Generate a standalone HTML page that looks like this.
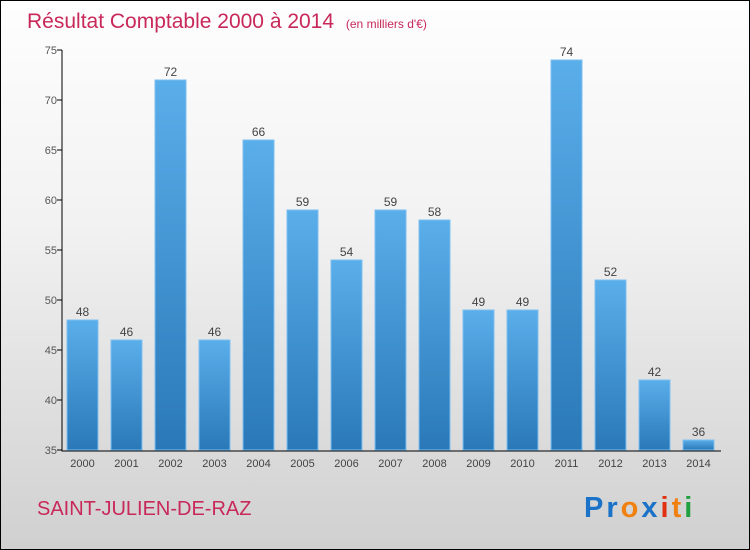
<!DOCTYPE html>
<html><head><meta charset="utf-8"><style>
body{margin:0}
#c{width:748px;height:548px;border:1px solid #000;position:relative;overflow:hidden;background:linear-gradient(#fefefe 0%,#f2f2f2 40%,#d0d0d0 100%);font-family:"Liberation Sans",sans-serif}
</style></head><body>
<div id="c">
<svg id="s" width="748" height="548">
<defs><linearGradient id="g" x1="0" y1="0" x2="0" y2="1"><stop offset="0" stop-color="#5aaeea"/><stop offset="1" stop-color="#2a78b8"/></linearGradient></defs>
<text x="26" y="27" font-size="21" fill="#c8285a">Résultat Comptable 2000 à 2014 <tspan font-size="12" dx="6">(en milliers d'€)</tspan></text>
<text x="36" y="514" font-size="20" fill="#c8285a">SAINT-JULIEN-DE-RAZ</text>
<text x="583" y="516" font-size="29" font-weight="bold" letter-spacing="3"><tspan fill="#1a73c8">Pr</tspan><tspan fill="#f08010">o</tspan><tspan fill="#1a73c8">x</tspan><tspan fill="#e03010">i</tspan><tspan fill="#f08010">t</tspan><tspan fill="#20a040">i</tspan></text>
<g id="p"></g>
</svg></div>
<script>
const years=["2000","2001","2002","2003","2004","2005","2006","2007","2008","2009","2010","2011","2012","2013","2014"];
const values=[48,46,72,46,66,59,54,59,58,49,49,74,52,42,36];
const ticks=[35,40,45,50,55,60,65,70,75];
const NS="http://www.w3.org/2000/svg",p=document.getElementById('p');
const y=v=>449-(v-35)*10, x=i=>66+i*44;
function mk(t,a,txt){const e=document.createElementNS(NS,t);for(const k in a)e.setAttribute(k,a[k]);if(txt!==undefined)e.textContent=txt;p.appendChild(e);return e;}
ticks.forEach(t=>{const e=mk('text',{x:56,y:y(t)+4,'font-size':11,fill:'#555','text-anchor':'end'},t);


const l=mk('line',{x1:56,x2:61,y1:y(t),y2:y(t),stroke:'#000'});

});
values.forEach((v,i)=>{const r=mk('rect',{x:x(i),y:y(v),width:31,height:y(35)-y(v),fill:'url(#g)',stroke:'#7cc0f0','stroke-width':1});


const t=mk('text',{x:x(i)+15.5,y:y(v)-4,'font-size':12,fill:'#444','text-anchor':'middle'},v);


const xl=mk('text',{x:x(i)+15.5,y:466,'font-size':11,fill:'#444','text-anchor':'middle'},years[i]);

});
const ax=mk('path',{d:'M61 49V450H720',stroke:'#000',fill:'none'});


</script></body></html>
